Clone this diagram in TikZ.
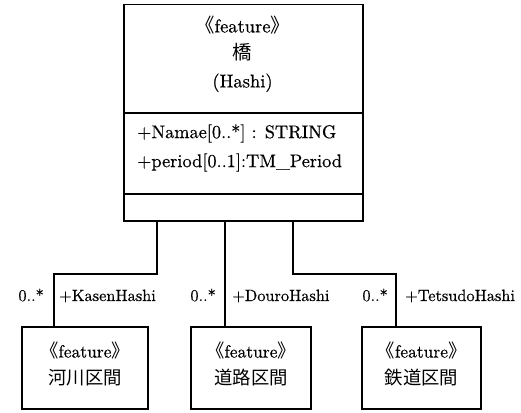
\documentclass[tikz,border=0pt]{standalone}
\usepackage{fontspec}
\setmainfont{lmroman10-regular.otf}[BoldFont=lmroman10-bold.otf, ItalicFont=lmroman10-italic.otf, FakeBold=0.5]
\newfontfamily\cjk{Noto Sans CJK JP}[Scale=1.05]
\newcommand{\stlt}{{\cjk 《}}
\newcommand{\strt}{{\cjk 》}}
\begin{document}
\begin{tikzpicture}[x=1pt,y=-1pt,
  font=\fontsize{17.5}{27}\selectfont,
  box/.style={draw, line width=1.5pt, inner sep=0pt},
  conn/.style={line width=1.5pt},
  lbl/.style={inner sep=0pt, font=\fontsize{16.3}{27}\selectfont}]
\useasboundingbox (0,0) rectangle (521,412);
% main class
\node[box, minimum width=239pt, minimum height=108pt, anchor=north west] (top) at (123,4) {};
\node[box, minimum width=239pt, minimum height=81pt, anchor=north west] (mid) at (123,112) {};
\node[box, minimum width=239pt, minimum height=27pt, anchor=north west] (bot) at (123,193) {};
\node[inner sep=0pt, align=center, font=\fontsize{18.5}{27.5}\selectfont] (title) at (242.5,54) {\stlt feature\strt\\{\cjk 橋}\\(Hashi)};
\node[inner sep=0pt, align=left, anchor=west, font=\fontsize{18.3}{29}\selectfont] (attrs) at (137,148) {+Namae[0..*] : STRING\\+period[0..1]:TM\_Period};
% children
\node[box, minimum width=126pt, minimum height=82pt] (c1) at (85,368) {};
\node[box, minimum width=120pt, minimum height=82pt] (c2) at (251,368) {};
\node[box, minimum width=119pt, minimum height=82pt] (c3) at (421.5,368) {};
\node[inner sep=0pt, align=center] (t1) at (85,364) {\stlt feature\strt\\{\cjk 河川区間}};
\node[inner sep=0pt, align=center] (t2) at (251,364) {\stlt feature\strt\\{\cjk 道路区間}};
\node[inner sep=0pt, align=center] (t3) at (421.5,364) {\stlt feature\strt\\{\cjk 鉄道区間}};
% connectors
\coordinate (k1) at (157,274);
\coordinate (k2) at (54,274);
\coordinate (m1) at (225,274);
\coordinate (r1) at (293,274);
\coordinate (r2) at (396,274);
\draw[conn] (bot.south -| k1) -- (k1) -- (k2) -- (c1.north -| k2);
\draw[conn] (bot.south -| m1) -- (c2.north -| m1);
\draw[conn] (bot.south -| r1) -- (r1) -- (r2) -- (c3.north -| r2);
% labels
\node[lbl, anchor=base east] (m1l) at (44,301) {0..*};
\node[lbl, anchor=base west] (r1l) at (59,301) {+KasenHashi};
\node[lbl, anchor=base east] (m2l) at (216,301) {0..*};
\node[lbl, anchor=base west] (r2l) at (232,301) {+DouroHashi};
\node[lbl, anchor=base east] (m3l) at (388,301) {0..*};
\node[lbl, anchor=base west] (r3l) at (405,301) {+TetsudoHashi};
\end{tikzpicture}
\end{document}
